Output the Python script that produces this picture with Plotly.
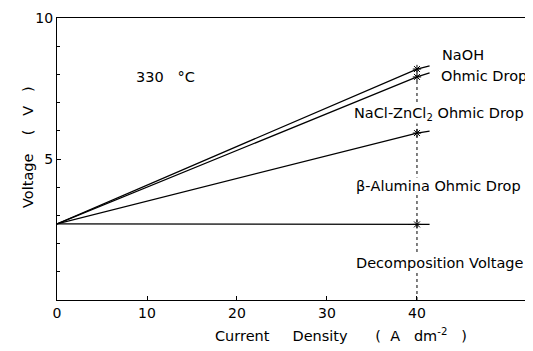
import plotly.graph_objects as go

# Data
current = [0, 40, 41.4]                       # A dm^-2
naoh = [2.7, 8.19, 8.30]                      # V
nacl_zncl2 = [2.7, 7.91, 8.05]
beta_alumina = [2.7, 5.92, 5.99]
decomposition = [2.7, 2.68, 2.68]
marker_x = 40
marker_y = [8.19, 7.91, 5.92, 2.68]

x_ticks = [0, 10, 20, 30, 40]
y_ticks = [5, 10]

FONT = "DejaVu Sans"
OFF = 8  # page body margin offset
W, H = 533, 351 - OFF
ml, mt = 57 - OFF, 18 - OFF
mr = W - (532 - OFF)
mb = H - (300 - OFF)
pw, ph = W - ml - mr, H - mt - mb

def px(xw):
    return (xw - OFF - ml) / pw

def py(yw):
    return 1 - (yw - OFF - mt) / ph

NB = "\u00a0"
fig = go.Figure()

for ys in (naoh, nacl_zncl2, beta_alumina, decomposition):
    fig.add_trace(go.Scatter(x=current, y=ys, mode="lines",
                             line=dict(color="black", width=1.3),
                             showlegend=False, hoverinfo="skip"))

fig.add_trace(go.Scatter(x=[marker_x, marker_x], y=[0, max(marker_y)], mode="lines",
                         line=dict(color="black", width=1, dash="dot"),
                         showlegend=False, hoverinfo="skip"))

fig.add_trace(go.Scatter(x=[marker_x] * len(marker_y), y=marker_y, mode="markers",
                         marker=dict(symbol="asterisk-open", size=7, color="black",
                                     line=dict(color="black", width=1)),
                         showlegend=False, hoverinfo="skip"))

tf = dict(family=FONT, size=14.5, color="black")
labels = [
    ("NaOH", 441, 55),
    ("Ohmic" + NB + "Drop", 440, 76),
    ("NaCl-ZnCl<sub>2</sub>" + NB + "Ohmic" + NB + "Drop", 353, 114),
    ("β-Alumina" + NB + "Ohmic" + NB + "Drop", 355, 186),
    ("Decomposition" + NB + "Voltage", 355, 263),
]
for text, xw, yw in labels:
    fig.add_annotation(x=px(xw), y=py(yw), xref="paper", yref="paper", text=text,
                       showarrow=False, xanchor="left", yanchor="middle", font=tf,
                       bgcolor="white", borderpad=0)

fig.add_annotation(x=px(134), y=py(77), xref="paper", yref="paper",
                   text="330" + NB * 3 + "°C",
                   showarrow=False, xanchor="left", yanchor="middle", font=tf)

# axis titles
fig.add_annotation(x=px(18), y=py(147), xref="paper", yref="paper",
                   text="Voltage" + NB * 4 + "(" + NB * 3 + "V" + NB * 3 + ")",
                   textangle=-90, showarrow=False, font=tf)
fig.add_annotation(x=px(213), y=py(335), xref="paper", yref="paper", xanchor="left",
                   text="Current" + NB * 5 + "Density" + NB * 6 + "(" + NB * 2 + "A"
                        + NB * 3 + "dm<sup>-2</sup>" + NB * 3 + ")",
                   showarrow=False, font=tf, yanchor="middle")

fig.update_layout(
    width=W, height=H,
    margin=dict(l=ml, r=mr, t=mt, b=mb),
    plot_bgcolor="white", paper_bgcolor="white",
    font=dict(family=FONT, size=14, color="black"),
    xaxis=dict(range=[0, 52.78], tickvals=x_ticks, ticktext=[str(v) for v in x_ticks],
               ticks="inside", ticklen=4, tickcolor="black",
               showline=True, linecolor="black", linewidth=1, mirror=True,
               showgrid=False, zeroline=False, tickfont=dict(size=14), automargin=False),
    yaxis=dict(range=[0, 10], tickvals=y_ticks, ticktext=[str(v) for v in y_ticks],
               ticks="inside", ticklen=4, tickcolor="black",
               minor=dict(dtick=1, tick0=0, ticks="inside", ticklen=3, tickcolor="black"),
               showline=True, linecolor="black", linewidth=1, mirror=True,
               showgrid=False, zeroline=False, tickfont=dict(size=14), automargin=False),
)

fig.write_html("out.html")
